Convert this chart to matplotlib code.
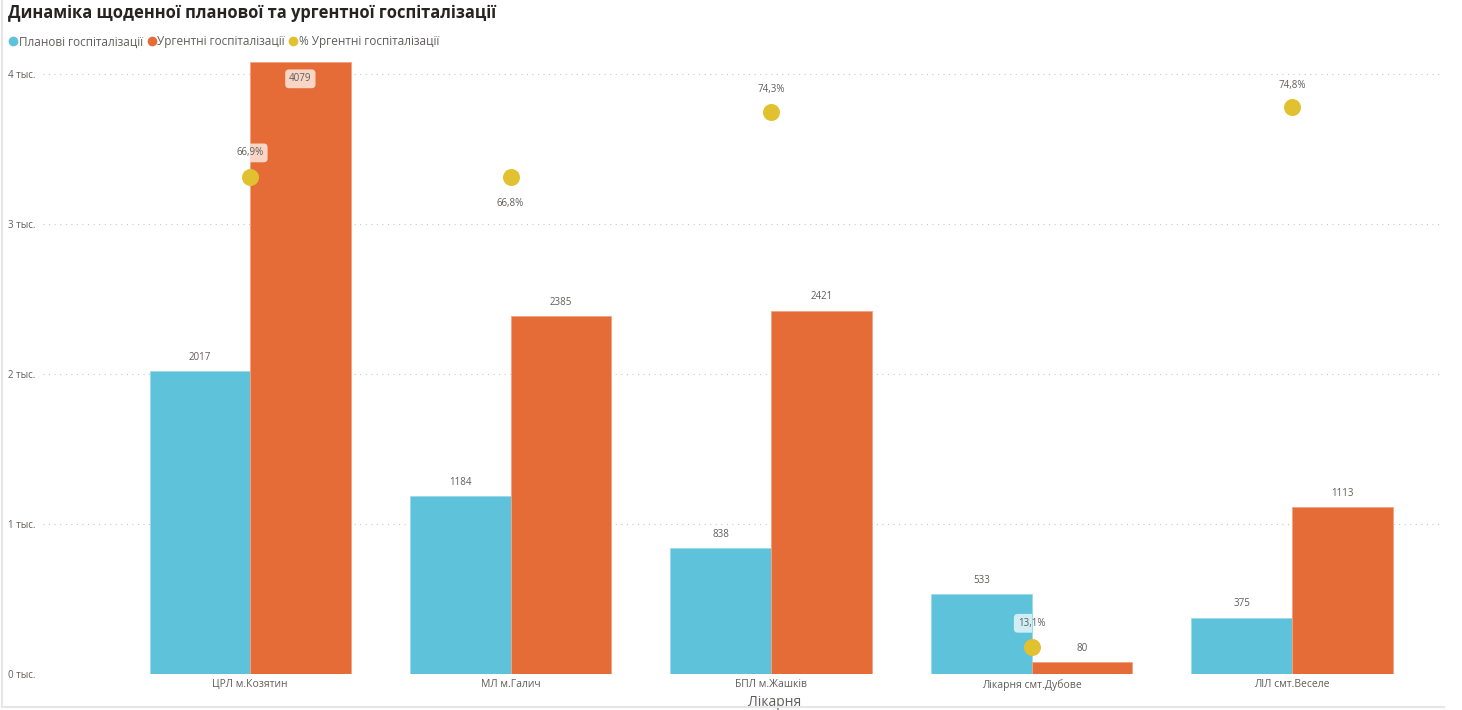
import matplotlib.pyplot as plt
from matplotlib.lines import Line2D

plt.rcParams['font.family'] = ['Open Sans', 'DejaVu Sans']

hospitals = ['ЦРЛ м.Козятин', 'МЛ м.Галич', 'БПЛ м.Жашків',
             'Лікарня смт.Дубове', 'ЛІЛ смт.Веселе']
planned = [2017, 1184, 838, 533, 375]
urgent = [4079, 2385, 2421, 80, 1113]
urgent_pct = [66.9, 66.8, 74.3, 13.1, 74.8]
y_ticks = [0, 1000, 2000, 3000, 4000]
y_tick_labels = ['0 тыс.', '1 тыс.', '2 тыс.', '3 тыс.', '4 тыс.']

BLUE = '#5EC2DB'
ORANGE = '#E66C37'
YELLOW = '#E2C131'
GREY = '#605E5C'

fig = plt.figure(figsize=(14.62, 7.1), dpi=100)
ax = fig.add_axes([43 / 1462, 1 - 674 / 710, 1398 / 1462, 612 / 710])
ax2 = ax.twinx()

x = list(range(len(hospitals)))
w = 0.386
bars_p = ax.bar([i - w / 2 for i in x], planned, w, color=BLUE,
                edgecolor='#9ADAEA', linewidth=0.6, zorder=2)
bars_u = ax.bar([i + w / 2 for i in x], urgent, w, color=ORANGE,
                edgecolor='#F2A383', linewidth=0.6, zorder=2)

ax.set_xlim(-0.795, 4.572)
ax.set_ylim(0, 4080)
ax.set_yticks(y_ticks)
ax.set_yticklabels(y_tick_labels)
ax.set_xticks(x)
ax.set_xticklabels(hospitals)
ax.tick_params(axis='both', length=0, labelsize=7.5, labelcolor=GREY)
ax.tick_params(axis='y', labelsize=7)
for lbl in ax.get_yticklabels():
    lbl.set_horizontalalignment('left')
ax.yaxis.set_tick_params(pad=25)
ax.grid(axis='y', linestyle=(0, (1, 4)), color='#C8C8C8', linewidth=0.8)
ax.set_axisbelow(True)
for s in ax.spines.values():
    s.set_visible(False)
for s in ax2.spines.values():
    s.set_visible(False)
ax.set_xlabel('Лікарня', fontsize=10, color=GREY, labelpad=3)
ax.xaxis.set_label_coords(0.523, -0.034)

# подписи столбцов
for b, v in zip(bars_p, planned):
    ax.annotate(str(v), (b.get_x() + b.get_width() / 2, v), xytext=(0, 10),
                textcoords='offset points', ha='center', va='center',
                fontsize=7, color=GREY)
for i, (b, v) in enumerate(zip(bars_u, urgent)):
    if v > 4000:
        ax.annotate(str(v), (b.get_x() + b.get_width() / 2, v), xytext=(0, -12),
                    textcoords='offset points', ha='center', va='center',
                    fontsize=7, color=GREY, zorder=5,
                    bbox=dict(boxstyle='round,pad=0.4', fc='#F9D5C6', ec='none'))
    else:
        ax.annotate(str(v), (b.get_x() + b.get_width() / 2, v), xytext=(0, 10),
                    textcoords='offset points', ha='center', va='center',
                    fontsize=7, color=GREY)

# проценты
ax2.scatter(x, urgent_pct, s=150, color=YELLOW, zorder=4, linewidths=0)
ax2.set_ylim(10, 80)
ax2.set_yticks([])
pct_offsets = [17, -19, 16, 17, 16]
box_colors = ['#F9D5C6', None, None, '#D2EEF5', None]
clip_bars = [bars_u[0], None, None, bars_p[3], None]
for i, v in enumerate(urgent_pct):
    lbl = f'{v:.1f}%'.replace('.', ',')
    t = ax2.annotate(lbl, (i, v), xytext=(0, pct_offsets[i]),
                     textcoords='offset points', ha='center', va='center',
                     fontsize=7, color=GREY, zorder=6)
    if box_colors[i]:
        t.set_bbox(dict(boxstyle='round,pad=0.4', fc=box_colors[i], ec='none'))
        t.get_bbox_patch().set_clip_path(clip_bars[i])

# заголовок и легенда
fig.text(8 / 1462, 1 - 13 / 710, 'Динаміка щоденної планової та ургентної госпіталізації',
         fontsize=11.9, fontweight='bold', color='#252423', va='center')
handles = [Line2D([], [], marker='o', linestyle='none', markersize=7,
                  markeredgewidth=0, color=c) for c in (BLUE, ORANGE, YELLOW)]
fig.legend(handles, ['Планові госпіталізації', 'Ургентні госпіталізації',
                     '% Ургентні госпіталізації'],
           loc='center left', bbox_to_anchor=(2 / 1462, 1 - 42 / 710), ncol=3,
           frameon=False, fontsize=8.5, labelcolor=GREY, handletextpad=-0.1,
           columnspacing=0.2, handlelength=1.1, borderaxespad=0)

# рамка визуала
fig.add_artist(Line2D([2 / 1462, 2 / 1462], [3 / 710, 1], color='#E6E6E6', linewidth=1.5))
fig.add_artist(Line2D([2 / 1462, 1444 / 1462], [3 / 710, 3 / 710], color='#E6E6E6', linewidth=1.5))

fig.savefig('out.png', dpi=100)
